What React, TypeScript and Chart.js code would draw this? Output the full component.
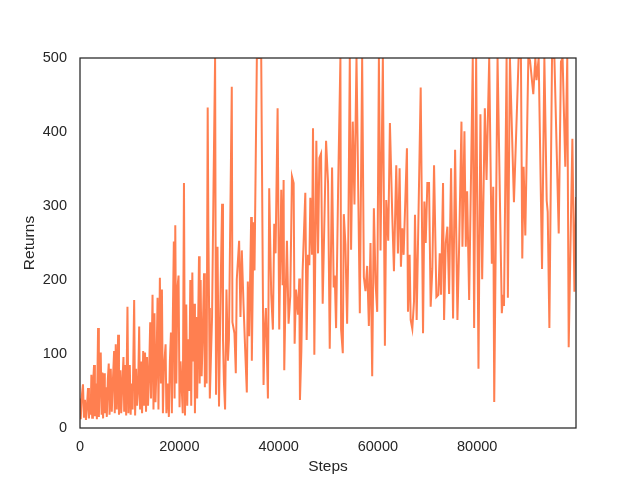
import React, { useEffect, useRef } from "react";
import { Chart, registerables } from "chart.js";

Chart.register(...registerables);

const steps: number[] = [
  0, 150, 350, 600, 800, 1000, 1200, 1400, 1620, 1800, 2000, 2150, 2290, 2450, 2600, 2830, 3000, 3200, 3400, 3640,
  3800, 4000, 4180, 4350, 4500, 4650, 4850, 5000, 5200, 5400, 5600, 5790, 5950, 6195, 6400, 6600, 6870, 7000, 7200, 7400,
  7676, 7850, 8000, 8147, 8300, 8500, 8754, 8900, 9090, 9300, 9560, 9750, 9900, 10030,
  10200, 10400, 10600, 10908, 11100, 11300, 11500, 11700, 11918, 12100, 12300, 12500, 12726, 12900, 13100, 13300, 13500, 13700, 13900, 14140,
  14300, 14610, 14800, 15000, 15200, 15400, 15620, 15800, 16090, 16300, 16500, 16700, 16900, 17240, 17400, 17700, 17900, 18100, 18315, 18500,
  18700, 18900, 19050, 19190, 19400, 19600, 19850,
  20050, 20250, 20450, 20700, 20940, 21150, 21400, 21600, 21800, 22000, 22220, 22400, 22624, 22800, 23000, 23150, 23400, 23600, 23970, 24100,
  24300, 24500, 24700, 24980, 25150, 25300, 25500, 25720, 25850, 26000, 26150, 26350, 26600, 26900, 27210, 27400, 27700, 28000, 28300, 28620,
  28800, 29000, 29220, 29500, 29800, 30000,
  30570, 30700, 31110, 31380, 31580, 32050, 32320, 32590, 32930, 33260, 33600, 33800, 34070, 34475, 34610, 34945, 35150, 35620, 36500, 36970,
  37170, 37440, 37850, 38110, 38510, 38850, 39120, 39390, 39800, 40130,
  40535, 40800, 41010, 41140, 41340, 41680, 42010, 42350, 42690, 43030, 43230, 43500, 43900, 44170, 44300, 44580, 44840, 45380, 45650, 45920,
  46190, 46390, 46730, 46930, 47200, 47600, 47940, 48210, 48550, 48880, 49560, 49960, 50300,
  50770, 51100, 51310, 51580, 51980, 52450, 52590, 52930, 53130, 53460, 53800, 54000, 54340, 54600, 54940, 55280, 55690, 56360, 56830, 57170,
  57500, 57840, 58180, 58510, 58850, 59190, 59530, 59860, 60200,
  60530, 61000, 61410, 61680, 62080, 62420, 62890, 63230, 63700, 64030, 64370, 64640, 64910, 65180, 65850, 66060, 66390, 66600, 66930, 67270,
  67470, 67810, 68620, 69090, 69360, 69630, 69960, 70300,
  70630, 70970, 71310, 71780, 72180, 72450, 72720, 73120, 73330, 73660, 74000, 74340, 74740, 75140, 75550, 76020, 76360, 76830, 77030, 77430,
  77700, 77970, 78380, 79110, 79380, 79790, 80260, 80650,
  81000, 81540, 81880, 82420, 82950, 83230, 83430, 84100, 84960, 85200, 85400, 85920, 86180, 86590, 87400, 88340, 88810, 89080, 89350, 89690,
  90300, 90630, 91300, 91710, 91950, 92380, 93060, 93530, 94000, 94200, 94540, 95070, 95550, 96420, 96870, 97200, 97740, 98140, 98430, 99170,
  99580, 99900,
];

const returns: number[] = [
  40, 12, 42, 59, 14, 38, 11, 30, 54, 13, 40, 18, 72, 14, 55, 85, 16, 60, 12, 135,
  15, 70, 102, 18, 75, 13, 74, 20, 55, 15, 65, 87, 18, 80, 22, 60, 104, 20, 113, 25,
  126, 18, 60, 78, 20, 55, 96, 22, 85, 17, 164, 20, 70, 85,
  18, 60, 25, 173, 17, 80, 30, 50, 137, 25, 90, 20, 104, 30, 102, 22, 96, 30, 70, 143,
  40, 180, 25, 155, 35, 80, 176, 25, 203, 60, 187, 20, 80, 113, 20, 60, 15, 90, 129, 20,
  150, 252, 40, 274, 60, 187, 206,
  28, 90, 60, 20, 331, 17, 167, 30, 120, 50, 200, 30, 210, 90, 168, 20, 150, 40, 232, 60,
  200, 70, 120, 209, 55, 160, 60, 433, 272, 162, 40, 90, 150, 330, 500, 45, 245, 29, 180, 303,
  120, 60, 25, 187, 91, 120,
  461, 143, 128, 74, 201, 253, 150, 240, 168, 107, 48, 198, 124, 285, 91, 278, 213, 500, 500, 58,
  126, 162, 40, 324, 181, 133, 276, 236, 432, 133,
  322, 193, 335, 78, 157, 253, 141, 178, 340, 331, 114, 187, 153, 202, 38, 103, 212, 318, 119, 234,
  220, 311, 234, 405, 99, 388, 236, 365, 371, 168, 388, 331, 107,
  352, 190, 206, 135, 320, 500, 133, 101, 289, 248, 141, 225, 500, 241, 414, 302, 500, 155, 500, 204,
  185, 219, 138, 250, 70, 297, 196, 157, 500,
  240, 500, 111, 308, 253, 412, 288, 212, 355, 236, 351, 218, 270, 234, 378, 157, 234, 146, 134, 171,
  288, 146, 460, 128, 306, 250, 331, 331,
  164, 216, 355, 177, 180, 236, 180, 331, 146, 250, 272, 181, 351, 148, 376, 146, 245, 414, 245, 401,
  245, 320, 173, 500, 135, 500, 80, 424,
  201, 432, 335, 500, 222, 326, 35, 500, 155, 180, 165, 500, 176, 500, 305, 500, 500, 229, 353, 260,
  500, 497, 451, 500, 470, 500, 215, 500, 307, 292, 135, 500, 500, 263, 495, 500, 353, 500, 109, 391,
  184, 312,
];

const xTicks: number[] = [0, 20000, 40000, 60000, 80000];
const yTicks: number[] = [0, 100, 200, 300, 400, 500];

const TEXT = "#262626";
const FONT = "'Liberation Sans', Arial, sans-serif";

const framePlugin = {
  id: "frame",
  afterDraw(chart: any) {
    const { ctx, chartArea } = chart;
    ctx.save();
    ctx.strokeStyle = TEXT;
    ctx.lineWidth = 1.25;
    ctx.strokeRect(chartArea.left, chartArea.top, chartArea.right - chartArea.left, chartArea.bottom - chartArea.top);
    ctx.restore();
  },
};

export default function App() {
  const ref = useRef<HTMLCanvasElement | null>(null);
  useEffect(() => {
    document.body.style.margin = "0";
    const canvas = ref.current;
    if (!canvas) return;
    const data = steps.map((s, i) => ({ x: s, y: returns[i] }));
    const chart = new Chart(canvas, {
      type: "line",
      data: {
        datasets: [
          {
            data,
            borderColor: "#FF7F50",
            backgroundColor: "#FF7F50",
            borderWidth: 2,
            pointRadius: 0,
            tension: 0,
            fill: false,
          },
        ],
      },
      options: {
        animation: false,
        responsive: false,
        maintainAspectRatio: false,
        layout: { padding: { left: 0, right: 64, top: 58, bottom: 0 } },
        plugins: { legend: { display: false }, tooltip: { enabled: false } },
        scales: {
          x: {
            type: "linear",
            min: 0,
            max: 99900,
            afterFit: (s: any) => {
              s.height = 52;
            },
            afterBuildTicks: (s: any) => {
              s.ticks = xTicks.map((v) => ({ value: v }));
            },
            grid: { display: false, drawTicks: false },
            border: { display: false },
            ticks: {
              color: TEXT,
              font: { family: FONT, size: 14.5 },
              padding: 10,
              maxRotation: 0,
              callback: (v: any) => String(v),
            },
            title: { display: true, text: "Steps", color: TEXT, font: { family: FONT, size: 15.5 }, padding: { top: 0, bottom: 4 } },
          },
          y: {
            min: 0,
            max: 500,
            afterFit: (s: any) => {
              s.width = 80;
            },
            afterBuildTicks: (s: any) => {
              s.ticks = yTicks.map((v) => ({ value: v }));
            },
            grid: { display: false, drawTicks: false },
            border: { display: false },
            ticks: { color: TEXT, font: { family: FONT, size: 14.5 }, padding: 13, callback: (v: any) => String(v) },
            title: { display: true, text: "Returns", color: TEXT, font: { family: FONT, size: 15.5 }, padding: { top: 20, bottom: 0 } },
          },
        },
      },
      plugins: [framePlugin],
    });
    return () => chart.destroy();
  }, []);
  return (
    <div style={{ position: "absolute", left: 0, top: 0, width: 640, height: 480, background: "#fff" }}>
      <canvas ref={ref} width={640} height={480} style={{ width: 640, height: 480 }} />
    </div>
  );
}
